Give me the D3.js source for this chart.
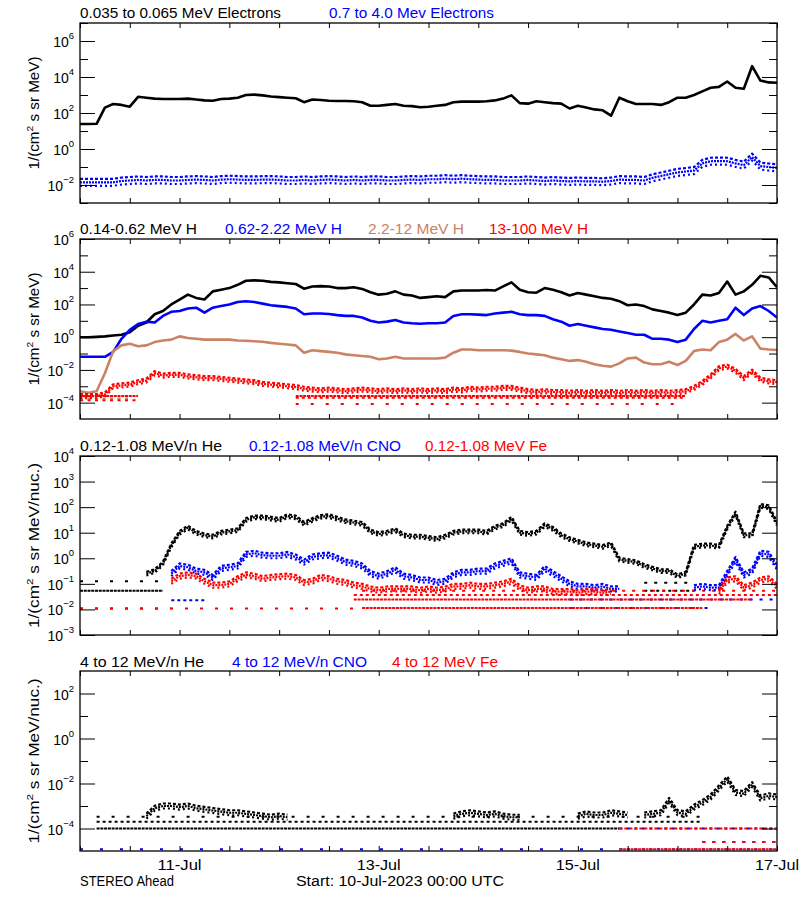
<!DOCTYPE html>
<html><head><meta charset="utf-8">
<script src="https://cdn.jsdelivr.net/npm/d3@7"></script>
<style>
body{margin:0;background:#fff}
svg{display:block}
text{font-family:"Liberation Sans",Arial,Helvetica,sans-serif}
</style>
</head><body>
<svg id="chart" width="800" height="900"></svg>
<script>
// ---------------- DATA (values are log10 of the flux, 2-hour samples from 10-Jul-2023 00:00 UTC) ----------------
const hoursFromStart = [0,2,4,6,8,10,12,14,16,18,20,22,24,26,28,30,32,34,36,38,40,42,44,46,48,50,52,54,56,58,60,62,64,66,68,70,72,74,76,78,80,82,84,86,88,90,92,94,96,98,100,102,104,106,108,110,112,114,116,118,120,122,124,126,128,130,132,134,136,138,140,142,144,146,148,150,152,154,156,158,160,162,164,166,168];
const xTickHours = [0,12,24,36,48,60,72,84,96,108,120,132,144,156,168];
const dayTickHours = [24,72,120,168];
const dayTickLabels = ["11-Jul","13-Jul","15-Jul","17-Jul"];

// Panel 1: electrons
const elec035Log10 = [1.39,1.39,1.40,2.30,2.50,2.45,2.35,2.90,2.85,2.80,2.78,2.78,2.78,2.80,2.75,2.70,2.68,2.78,2.80,2.85,3.00,3.02,2.98,2.92,2.88,2.85,2.82,2.60,2.75,2.72,2.68,2.67,2.67,2.65,2.60,2.40,2.40,2.45,2.50,2.40,2.38,2.32,2.35,2.40,2.45,2.60,2.63,2.63,2.63,2.65,2.70,2.80,2.98,2.55,2.52,2.65,2.60,2.55,2.52,2.25,2.40,2.30,2.20,2.15,1.85,2.85,2.65,2.50,2.50,2.50,2.45,2.60,2.85,2.85,3.00,3.20,3.40,3.45,3.75,3.40,3.35,4.60,3.80,3.70,3.68];
const elec07Log10 = [-1.85,-1.85,-1.85,-1.85,-1.85,-1.78,-1.75,-1.72,-1.75,-1.72,-1.72,-1.75,-1.75,-1.72,-1.70,-1.72,-1.75,-1.70,-1.68,-1.70,-1.72,-1.72,-1.70,-1.70,-1.72,-1.75,-1.75,-1.72,-1.75,-1.72,-1.70,-1.72,-1.75,-1.72,-1.75,-1.72,-1.72,-1.75,-1.75,-1.72,-1.70,-1.72,-1.68,-1.68,-1.65,-1.68,-1.65,-1.68,-1.70,-1.72,-1.72,-1.75,-1.75,-1.75,-1.72,-1.75,-1.78,-1.75,-1.78,-1.80,-1.78,-1.80,-1.80,-1.82,-1.78,-1.70,-1.72,-1.72,-1.75,-1.60,-1.50,-1.40,-1.30,-1.25,-1.20,-0.80,-0.68,-0.67,-0.68,-0.80,-0.90,-0.45,-0.95,-1.00,-1.05];

// Panel 2: protons
const h014Log10 = [0.00,0.00,0.02,0.05,0.10,0.15,0.30,0.70,0.90,1.40,1.60,2.00,2.30,2.60,2.40,2.30,2.80,2.90,3.00,3.20,3.45,3.47,3.45,3.38,3.35,3.30,3.25,2.96,3.10,3.12,3.10,3.00,3.00,3.05,2.95,2.75,2.60,2.65,2.80,2.60,2.55,2.40,2.45,2.50,2.45,2.80,2.85,2.85,2.85,2.88,2.85,3.10,3.35,2.90,2.75,2.72,3.00,2.90,2.75,2.55,2.70,2.60,2.50,2.40,2.35,2.20,1.95,2.00,1.90,1.70,1.60,1.50,1.35,1.50,2.00,2.60,2.55,2.70,3.40,2.60,2.80,3.20,3.75,3.65,3.05];
const h062Log10 = [-1.20,-1.20,-1.20,-1.20,-0.90,-0.10,0.45,0.80,0.95,0.90,1.30,1.55,1.60,1.75,1.80,1.50,1.80,1.90,2.00,2.15,2.20,2.15,2.05,1.95,1.90,1.85,1.75,1.40,1.45,1.45,1.42,1.35,1.30,1.30,1.20,1.00,0.90,0.95,1.05,0.90,0.85,0.82,0.85,0.85,0.90,1.30,1.40,1.40,1.38,1.35,1.45,1.50,1.55,1.40,1.35,1.35,1.30,1.10,0.95,0.70,0.80,0.70,0.60,0.50,0.45,0.35,0.25,0.15,0.15,-0.10,-0.10,-0.15,-0.30,-0.15,0.50,1.00,0.90,1.00,1.10,1.80,1.35,1.75,1.90,1.60,1.20];
const h22Log10 = [-3.30,-3.40,-3.30,-2.20,-0.85,-0.50,-0.40,-0.55,-0.50,-0.30,-0.20,-0.15,0.05,-0.05,-0.10,-0.15,-0.15,-0.15,-0.15,-0.20,-0.22,-0.25,-0.28,-0.35,-0.40,-0.45,-0.50,-0.95,-0.80,-0.85,-0.90,-0.95,-1.05,-1.10,-1.15,-1.20,-1.35,-1.30,-1.20,-1.30,-1.30,-1.30,-1.30,-1.30,-1.25,-0.95,-0.75,-0.75,-0.80,-0.80,-0.80,-0.80,-0.82,-0.90,-1.00,-1.05,-1.10,-1.25,-1.35,-1.45,-1.40,-1.50,-1.65,-1.75,-1.80,-1.60,-1.30,-1.25,-1.55,-1.65,-1.65,-1.50,-1.70,-1.45,-0.85,-0.75,-0.80,-0.30,-0.15,0.20,-0.20,0.05,-0.70,-0.75,-0.78];
const h13Log10 = [-3.60,-3.60,-3.60,-3.50,-3.00,-2.95,-2.90,-2.75,-2.65,-2.20,-2.35,-2.30,-2.30,-2.40,-2.45,-2.50,-2.50,-2.55,-2.60,-2.65,-2.70,-2.75,-2.85,-2.90,-2.95,-3.00,-3.05,-3.15,-3.20,-3.25,-3.20,-3.25,-3.30,-3.25,-3.20,-3.25,-3.30,-3.25,-3.30,-3.25,-3.30,-3.25,-3.30,-3.25,-3.30,-3.20,-3.25,-3.15,-3.20,-3.15,-3.15,-3.10,-3.10,-3.20,-3.30,-3.35,-3.30,-3.35,-3.35,-3.40,-3.35,-3.40,-3.35,-3.40,-3.35,-3.40,-3.35,-3.40,-3.35,-3.40,-3.35,-3.40,-3.35,-3.30,-3.10,-2.80,-2.40,-1.90,-1.80,-2.05,-2.50,-2.10,-2.60,-2.70,-2.75];

// Panel 3: 0.12-1.08 MeV/n heavy ions
const he012Log10 = [null,null,null,null,null,null,null,null,-0.60,-0.50,-0.20,0.50,1.00,1.20,1.00,0.90,0.85,1.00,1.05,1.10,1.50,1.60,1.60,1.55,1.50,1.65,1.60,1.35,1.50,1.62,1.65,1.55,1.45,1.40,1.35,1.05,0.95,1.00,1.10,0.90,0.85,0.85,0.80,0.75,0.85,1.00,1.05,1.05,1.05,1.00,1.20,1.30,1.55,1.00,0.95,1.00,1.30,1.15,0.90,0.75,0.65,0.55,0.50,0.45,0.55,-0.05,-0.10,-0.15,-0.30,-0.40,-0.50,-0.50,-0.70,-0.60,0.45,0.50,0.50,0.45,1.20,1.75,0.90,0.90,2.05,2.00,1.35];
const cno012Log10 = [null,null,null,null,null,null,null,null,null,null,null,-0.60,-0.30,-0.35,-0.50,-0.55,-0.75,-0.40,-0.35,-0.30,0.15,0.20,0.12,0.10,0.10,0.15,0.05,-0.15,0.05,0.10,0.12,0.00,-0.15,-0.20,-0.30,-0.60,-0.70,-0.60,-0.45,-0.70,-0.75,-0.85,-0.85,-0.95,-0.90,-0.65,-0.55,-0.55,-0.50,-0.50,-0.30,-0.20,-0.10,-0.65,-0.70,-0.75,-0.40,-0.60,-0.80,-1.00,-1.10,-1.10,-1.15,-1.10,-1.20,-1.20,null,null,null,null,null,null,null,null,-1.15,-1.10,-1.15,-1.15,-0.60,-0.05,-0.65,-0.50,0.20,0.15,-0.35];
const fe012Log10 = [null,null,null,null,null,null,null,null,null,null,null,-0.90,-0.70,-0.65,-0.70,-0.90,-1.05,-1.05,-1.00,-0.80,-0.65,-0.70,-0.80,-0.75,-0.72,-0.70,-0.75,-0.95,-0.90,-0.75,-0.80,-0.90,-0.95,-1.05,-1.10,-1.20,-1.25,-1.20,-1.20,-1.20,-1.20,-1.25,-1.20,-1.25,-1.20,-1.10,-1.10,-1.05,-1.10,-1.10,-1.05,-1.00,-0.90,-1.15,-1.25,-1.20,-1.20,-1.30,-1.30,-1.30,-1.35,-1.30,-1.30,-1.35,-1.30,null,null,null,null,null,null,null,null,null,null,null,null,-1.30,-0.85,-0.80,-1.15,-1.05,-0.85,-0.80,-1.10];

// Panel 4: 4-12 MeV/n heavy ions
const he4Log10 = [null,null,null,null,null,null,null,null,-3.45,-3.10,-3.00,-3.00,-3.05,-3.00,-3.10,-3.15,-3.20,-3.25,-3.30,-3.30,-3.35,-3.40,-3.45,-3.50,-3.45,-3.50,null,null,null,null,null,null,null,null,null,null,null,null,null,null,null,null,null,null,null,-3.45,-3.35,-3.30,-3.35,-3.40,-3.35,-3.45,-3.50,-3.50,null,null,null,null,null,null,-3.45,-3.35,-3.40,-3.40,-3.30,-3.35,-3.40,null,-3.40,-3.35,-3.30,-2.75,-3.30,-3.35,-3.05,-2.85,-2.60,-2.20,-1.80,-2.40,-2.45,-2.05,-2.65,-2.55,-2.60];

// Count-rate floor levels: [start hour, end hour, log10 flux, fraction of samples present]
const h22Floors  = [[0,12,-3.75,0.4]];
const h13Floors  = [[0,14,-3.60,0.8],[0,14,-3.85,0.4],[52,146,-3.60,0.8],[52,146,-3.70,0.5],[52,146,-4.08,0.2]];
const he012Floors = [[0,20,-1.27,0.8],[0,20,-0.90,0.2],[136,148,-1.27,0.5],[136,148,-0.96,0.3]];
const cno012Floors = [[0,22,-1.96,0.2],[22,30,-1.64,0.5],[118,168,-1.61,0.3],[118,152,-1.94,0.2]];
const fe012Floors = [[0,68,-1.96,0.2],[68,150,-1.94,0.8],[66,162,-1.61,0.8],[66,168,-1.44,0.5],[68,168,-1.27,0.3]];
const he4Floors  = [[4,130,-4.00,0.8],[4,150,-3.70,0.5],[4,150,-3.48,0.2]];
const cno4Floors = [[0,130,-4.92,0.15],[130,168,-4.92,0.4],[130,168,-4.00,0.4],[150,168,-4.60,0.3]];
const fe4Floors  = [[130,168,-4.92,0.8],[130,168,-4.00,0.6],[150,168,-4.60,0.3]];

// Axis tick exponents
const p1Major = [6,4,2,0,-2], p1Minor = [7,5,3,1,-1,-3];
const p2Major = [6,4,2,0,-2,-4], p2Minor = [5,3,1,-1,-3];
const p3Major = [4,3,2,1,0,-1,-2,-3], p3Minor = [];
const p4Major = [2,0,-2,-4], p4Minor = [1,-1,-3];

// Legend labels
const p1Labels = ["0.035 to 0.065 MeV Electrons","0.7 to 4.0 Mev Electrons"];
const p2Labels = ["0.14-0.62 MeV H","0.62-2.22 MeV H","2.2-12 MeV H","13-100 MeV H"];
const p3Labels = ["0.12-1.08 MeV/n He","0.12-1.08 MeV/n CNO","0.12-1.08 MeV Fe"];
const p4Labels = ["4 to 12 MeV/n He","4 to 12 MeV/n CNO","4 to 12 MeV Fe"];
const footLeft = "STEREO Ahead";
const footCenter = "Start: 10-Jul-2023 00:00 UTC";

// ---------------- STYLE / LAYOUT ----------------
const BLACK="#000000", BLUE="#0000ff", BROWN="#cc8264", RED="#ff0000";
const X0=80, X1=777;
const panels = [
  {top:23, bottom:203, dom:[-3,7], major:p1Major, minor:p1Minor, unit:"MeV)", ytl:113,
   labels:p1Labels, lx:[80,329], lw:[201,165], colors:[BLACK,BLUE], base:18,
   series:[{v:elec07Log10,c:BLUE,spread:3.5},{v:elec035Log10,c:BLACK,w:2.6}], floors:[]},
  {top:239, bottom:419, dom:[-5,6], major:p2Major, minor:p2Minor, unit:"MeV)", ytl:113,
   labels:p2Labels, lx:[80,225,368,489], lw:[117,117,96,99], colors:[BLACK,BLUE,BROWN,RED], base:234,
   series:[{v:h014Log10,c:BLACK,w:2.6},{v:h062Log10,c:BLUE,w:2.6},{v:h22Log10,c:BROWN,w:2.6},{v:h13Log10,c:RED,spread:2}],
   floors:[{f:h22Floors,c:BROWN},{f:h13Floors,c:RED}]},
  {top:456, bottom:635, dom:[-3,4], major:p3Major, minor:p3Minor, unit:"MeV/nuc.)", ytl:165,
   labels:p3Labels, lx:[80,249,425], lw:[142,152,122], colors:[BLACK,BLUE,RED], base:451,
   series:[{v:he012Log10,c:BLACK,spread:1.8},{v:cno012Log10,c:BLUE,spread:2.5},{v:fe012Log10,c:RED,spread:2.5}],
   floors:[{f:he012Floors,c:BLACK},{f:cno012Floors,c:BLUE},{f:fe012Floors,c:RED}]},
  {top:671, bottom:851, dom:[-5,3], major:p4Major, minor:p4Minor, unit:"MeV/nuc.)", ytl:165,
   labels:p4Labels, lx:[80,232,392], lw:[124,135,106], colors:[BLACK,BLUE,RED], base:667,
   series:[{v:he4Log10,c:BLACK,spread:2.5}],
   floors:[{f:he4Floors,c:BLACK},{f:cno4Floors,c:BLUE},{f:fe4Floors,c:RED}]}
];
// speckle rendering for noisy series: three thin dashed strands (pixel offset, dash pattern)
const strands = [[-1,"3,2"],[0,"2,1"],[1,"2,3"]];

const svg = d3.select("#chart");
svg.append("rect").attr("width",800).attr("height",900).attr("fill","#fff");
const x = d3.scaleLinear().domain([0,168]).range([X0,X1]);

panels.forEach((p,pi)=>{
  const y = d3.scaleLog().domain([Math.pow(10,p.dom[0]),Math.pow(10,p.dom[1])]).range([p.bottom,p.top]);
  const g = svg.append("g");
  const clipId = "clip"+pi;
  svg.append("clipPath").attr("id",clipId).append("rect")
     .attr("x",X0).attr("y",p.top).attr("width",X1-X0).attr("height",p.bottom-p.top);
  const plot = g.append("g").attr("clip-path",`url(#${clipId})`);

  // floor levels
  p.floors.forEach(fl=>{
    fl.f.forEach(seg=>{
      const [h0,h1,lv,occ]=seg;
      const gap = 3*(1-occ)/occ;
      plot.append("line")
        .attr("x1",x(h0)).attr("x2",x(h1))
        .attr("y1",y(Math.pow(10,lv))).attr("y2",y(Math.pow(10,lv)))
        .attr("stroke",fl.c).attr("stroke-width",2)
        .attr("stroke-dasharray",`3,${gap.toFixed(2)}`);
    });
  });

  // data series
  p.series.forEach(s=>{
    const line = d3.line()
      .defined((d,i)=>s.v[i]!==null)
      .x((d,i)=>x(hoursFromStart[i]))
      .y((d,i)=>y(Math.pow(10,s.v[i])));
    if (s.spread){
      strands.forEach(([k,da])=>{
        plot.append("path").datum(s.v)
          .attr("transform",`translate(0,${k*s.spread})`)
          .attr("d",line).attr("fill","none").attr("stroke",s.c)
          .attr("stroke-width",2.2).attr("stroke-linejoin","round")
          .attr("stroke-dasharray",da);
      });
    } else {
      plot.append("path").datum(s.v)
        .attr("d",line)
        .attr("fill","none").attr("stroke",s.c)
        .attr("stroke-width",s.w)
        .attr("stroke-linejoin","round");
    }
  });

  // axes
  const strip = sel=>sel.select(".domain").remove();
  const tickStyle = sel=>sel.selectAll("line").attr("stroke","#000").attr("stroke-width",1);
  g.append("g").attr("transform",`translate(0,${p.bottom})`)
    .call(d3.axisBottom(x).tickValues(xTickHours).tickSize(-5).tickFormat(""))
    .call(strip).call(tickStyle);
  g.append("g").attr("transform",`translate(0,${p.top})`)
    .call(d3.axisTop(x).tickValues(xTickHours).tickSize(-5).tickFormat(""))
    .call(strip).call(tickStyle);
  const maj = p.major.map(e=>Math.pow(10,e));
  const mnr = p.minor.map(e=>Math.pow(10,e));
  g.append("g").attr("transform",`translate(${X0},0)`)
    .call(d3.axisLeft(y).tickValues(maj).tickSize(-15).tickFormat("")).call(strip).call(tickStyle);
  g.append("g").attr("transform",`translate(${X1},0)`)
    .call(d3.axisRight(y).tickValues(maj).tickSize(-15).tickFormat("")).call(strip).call(tickStyle);
  if (mnr.length){
    g.append("g").attr("transform",`translate(${X0},0)`)
      .call(d3.axisLeft(y).tickValues(mnr).tickSize(-8).tickFormat("")).call(strip).call(tickStyle);
    g.append("g").attr("transform",`translate(${X1},0)`)
      .call(d3.axisRight(y).tickValues(mnr).tickSize(-8).tickFormat("")).call(strip).call(tickStyle);
  }
  g.append("rect").attr("x",X0).attr("y",p.top).attr("width",X1-X0).attr("height",p.bottom-p.top)
    .attr("fill","none").attr("stroke","#000").attr("stroke-width",1.3);

  // y tick labels: 10^n
  p.major.forEach(e=>{
    const t = g.append("text").attr("x",74).attr("y",y(Math.pow(10,e))+6)
      .attr("text-anchor","end").attr("font-size",14).attr("fill","#000");
    t.append("tspan").text("10");
    t.append("tspan").attr("dy",-8).attr("font-size",9.5).text(String(e).replace("-","\u2212"));
  });

  // y axis title
  const cy = (p.top+p.bottom)/2;
  const yt = g.append("text").attr("transform",`translate(39,${cy}) rotate(-90)`)
    .attr("text-anchor","middle").attr("font-size",14).attr("fill","#000")
    .attr("textLength",p.ytl).attr("lengthAdjust","spacingAndGlyphs");
  yt.append("tspan").text("1/(cm");
  yt.append("tspan").attr("dy",-6).attr("font-size",9.5).text("2");
  yt.append("tspan").attr("dy",6).text(" s sr "+p.unit);

  // legend titles
  p.labels.forEach((lab,i)=>{
    g.append("text").attr("x",p.lx[i]).attr("y",p.base)
      .attr("font-size",14).attr("fill",p.colors[i])
      .attr("textLength",p.lw[i]).attr("lengthAdjust","spacingAndGlyphs")
      .text(lab);
  });

  // date labels on last panel
  if (pi===panels.length-1){
    dayTickHours.forEach((h,i)=>{
      g.append("text").attr("x",x(h)).attr("y",870).attr("text-anchor","middle")
        .attr("font-size",14).attr("fill","#000")
        .attr("textLength",44).attr("lengthAdjust","spacingAndGlyphs")
        .text(dayTickLabels[i]);
    });
  }
});

svg.append("text").attr("x",80).attr("y",886).attr("font-size",14)
  .attr("textLength",94).attr("lengthAdjust","spacingAndGlyphs").text(footLeft);
svg.append("text").attr("x",296).attr("y",886).attr("font-size",14)
  .attr("textLength",208).attr("lengthAdjust","spacingAndGlyphs").text(footCenter);
</script>
</body></html>
